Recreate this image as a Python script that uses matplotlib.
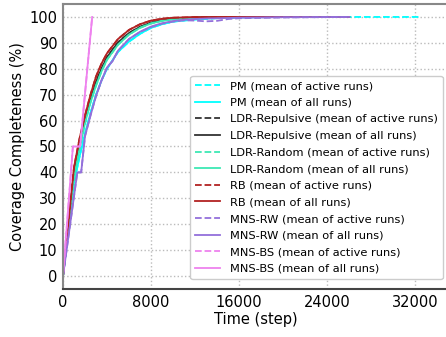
'''
Coverage completeness over time for the different exploration strategies.
'''

import matplotlib
matplotlib.use('Agg')
import matplotlib.pyplot as plt

##########
# DATA   #
##########

t_std = [0, 1000, 1500, 2000, 2500, 3000, 3500, 4000, 5000, 6000, 7000, 8000,
         9000, 10000, 12000, 14000, 16000, 20000, 26000]

pm_all = [0, 36, 46, 55, 63, 70, 75.5, 80, 86.5, 90.5, 93.5, 95.8, 97.2, 98.2,
          99.1, 99.6, 99.9, 100, 100]
pm_t_active = t_std + [29000, 32300]
pm_active = [0, 36, 46, 55, 63, 70, 75.5, 80, 86.5, 90.5, 93.5, 95.8, 97.2, 98.2,
             99.0, 99.5, 99.8, 100, 100, 100, 100]

ldr_rep_all = [0, 40, 51, 60, 68, 75, 80, 84.5, 90.2, 93.8, 96.2, 97.8, 98.7,
               99.3, 99.8, 100, 100, 100, 100]
ldr_rep_active = ldr_rep_all

ldr_rnd_all = [0, 38, 49, 59, 67, 73.5, 79, 83.5, 89.3, 93.2, 95.8, 97.5, 98.5,
               99.1, 99.7, 99.9, 100, 100, 100]
ldr_rnd_active = ldr_rnd_all

rb_all = [0, 42, 53, 62, 70, 77, 82, 86, 91.5, 95, 97.2, 98.6, 99.3, 99.7,
          99.95, 100, 100, 100, 100]
rb_active = rb_all

t_rw = [0, 1300, 1650, 2000, 2500, 3000, 3500, 4000, 4500, 5000, 6000, 7000, 8000,
        9000, 10000, 11000, 12000, 13000, 14000, 15000, 16000, 20000, 26000]
rw_all = [0, 40, 40, 54, 62, 69.5, 75.5, 80.5, 83, 87, 91.5, 94.3, 96.3, 97.6,
          98.4, 98.9, 99.2, 99.4, 99.5, 99.6, 99.7, 99.9, 100]
rw_active = [0, 40, 40, 54, 62, 69.5, 75.5, 80.5, 83, 87, 91.5, 94.2, 96.1, 97.4,
             98.2, 98.7, 98.6, 98.3, 98.5, 99.2, 99.5, 99.8, 100]

t_bs = [0, 900, 1550, 2650]
bs_all = [0, 50, 50, 100]
bs_active = bs_all

names = ['PM', 'LDR-Repulsive', 'LDR-Random', 'RB', 'MNS-RW', 'MNS-BS']
colors = ['cyan', '#333333', '#3de8b4', '#b22222', 'mediumpurple', 'violet']

series = [
    (pm_t_active, pm_active, t_std, pm_all),
    (t_std, ldr_rep_active, t_std, ldr_rep_all),
    (t_std, ldr_rnd_active, t_std, ldr_rnd_all),
    (t_std, rb_active, t_std, rb_all),
    (t_rw, rw_active, t_rw, rw_all),
    (t_bs, bs_active, t_bs, bs_all),
]

########
# PLOT #
########

fig = plt.figure(figsize=(4.46, 3.37), dpi=100)
ax = fig.add_axes([63 / 446, 1 - 289 / 337, 1 - 63 / 446 + 0.005, 285 / 337])

for name, c, (ta, va, tl, vl) in zip(names, colors, series):
    ax.plot(ta, va, '--', color=c, lw=1.3, label=name + ' (mean of active runs)')
    ax.plot(tl, vl, '-', color=c, lw=1.3, label=name + ' (mean of all runs)')

ax.set_xlim(0, 35000)
ax.set_ylim(-5, 105)
ax.set_xticks([0, 8000, 16000, 24000, 32000])
ax.set_yticks(range(0, 101, 10))
ax.tick_params(labelsize=10.5, length=0, pad=4)
ax.grid(True, ls=':', color='#bbbbbb', lw=1)
ax.set_xlabel('Time (step)', fontsize=10.5, labelpad=2)
ax.set_ylabel('Coverage Completeness (%)', fontsize=10.5, labelpad=3)

for s in ['left', 'top', 'right']:
    ax.spines[s].set_color('#888888')
    ax.spines[s].set_linewidth(1.5)
ax.spines['bottom'].set_color('#444444')
ax.spines['bottom'].set_linewidth(1.5)

ax.legend(loc='lower right', fontsize=8.2, handlelength=2.2, labelspacing=0.58,
          borderpad=0.45, bbox_to_anchor=(1.0, 0.015), framealpha=1, edgecolor='#cccccc')

fig.savefig('out.png', dpi=100)
